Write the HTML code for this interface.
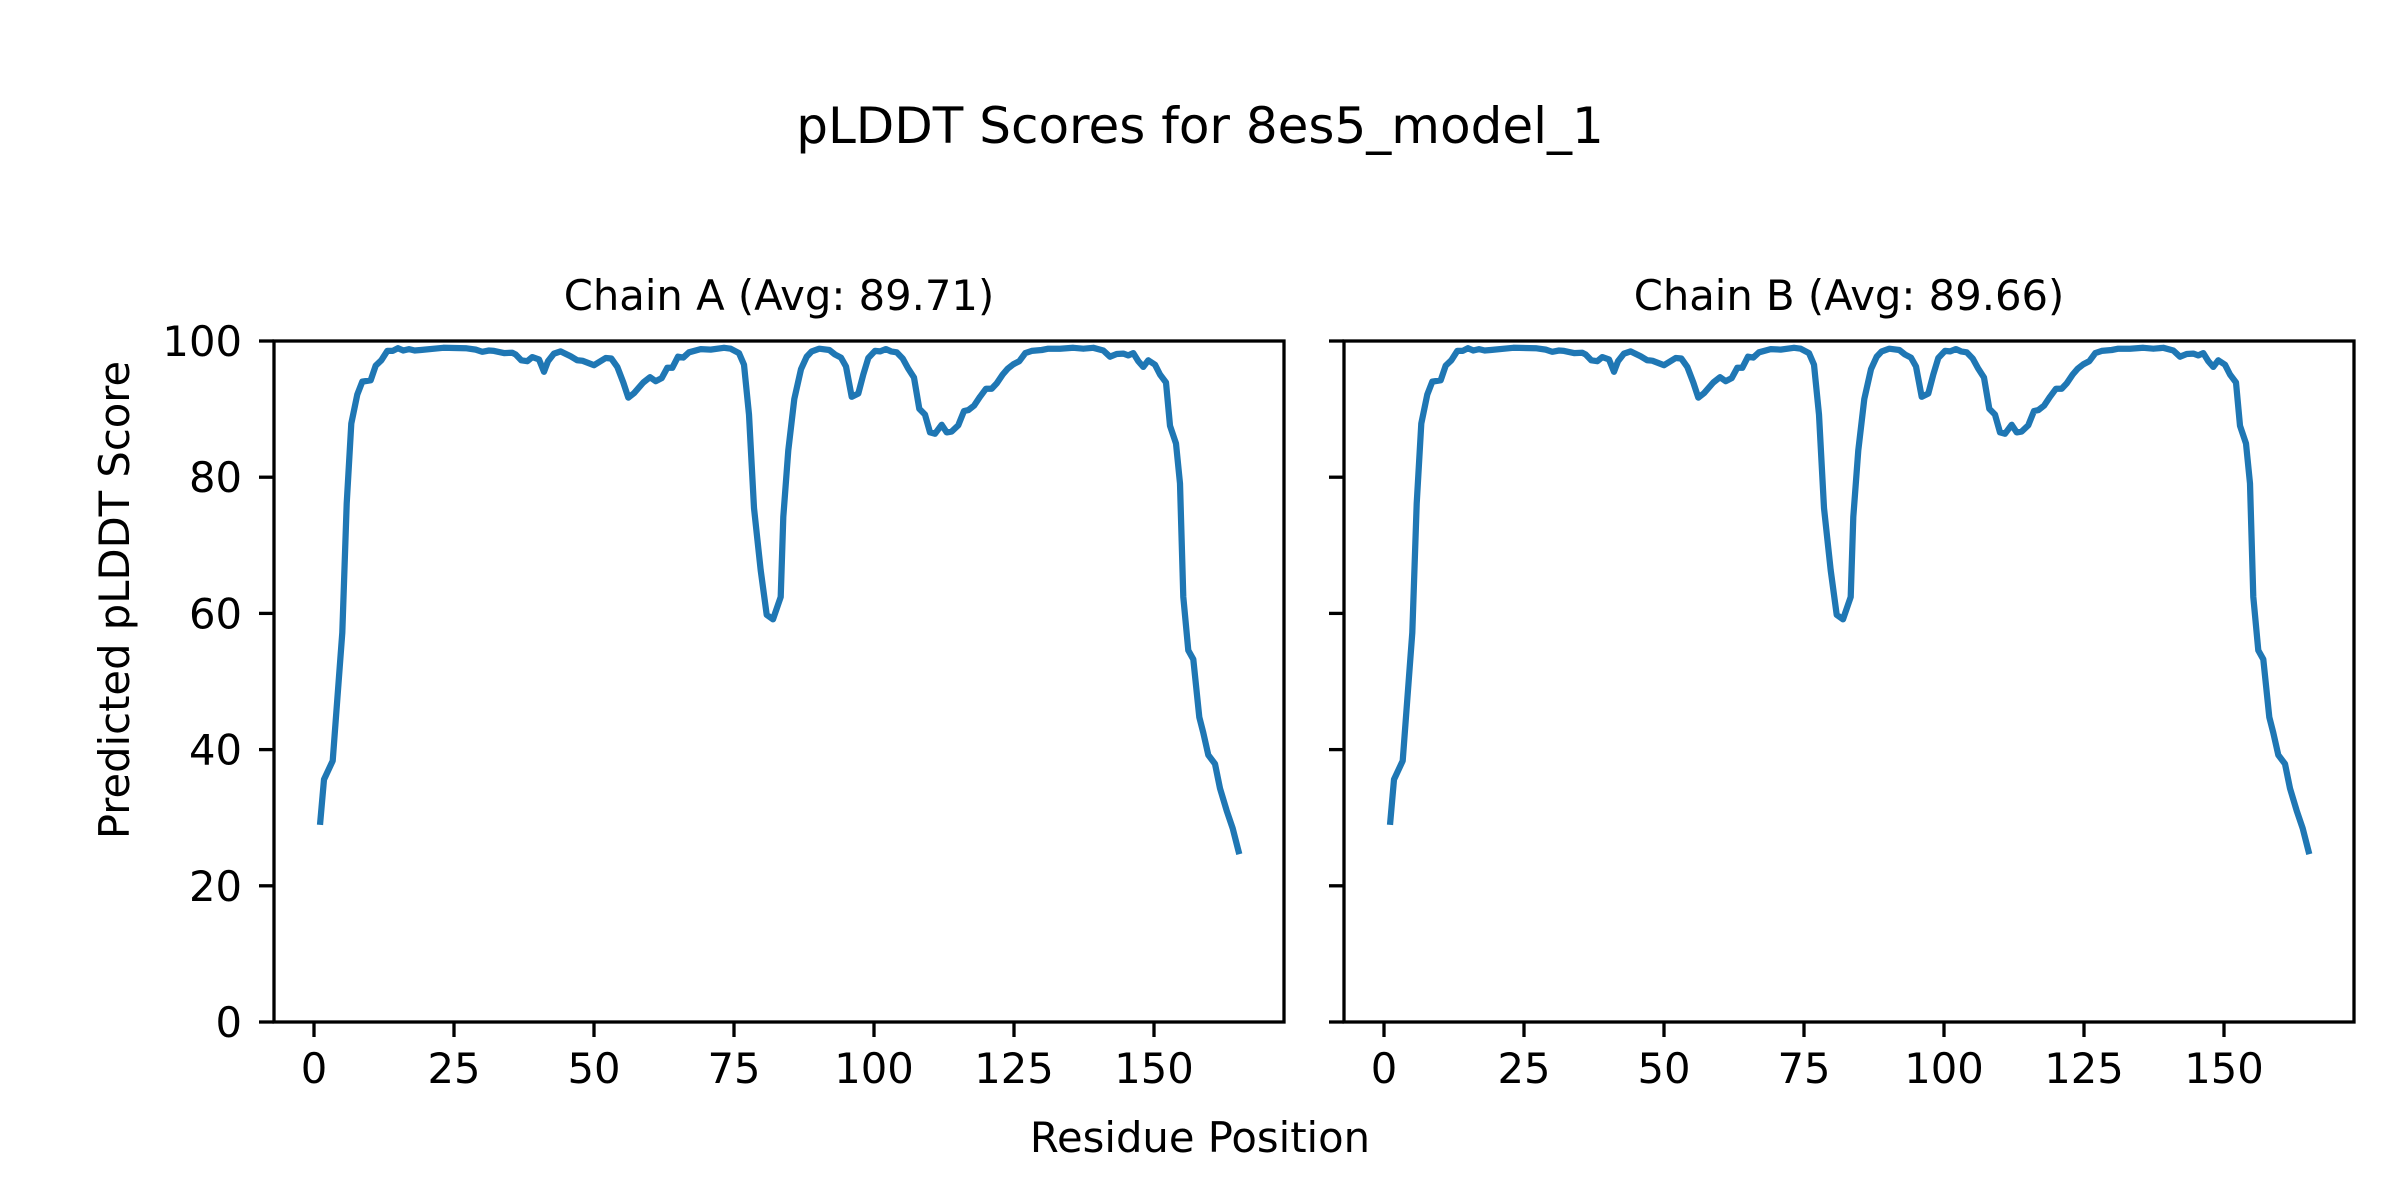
<!DOCTYPE html>
<html><head><meta charset="utf-8"><style>
html,body{margin:0;padding:0;background:#fff;}
svg{display:block;}
text{font-family:"DejaVu Sans","Liberation Sans",sans-serif;fill:#000;}
</style></head><body>
<svg width="2400" height="1200" viewBox="0 0 2400 1200" xmlns="http://www.w3.org/2000/svg">
<rect width="2400" height="1200" fill="#fff"/>
<text x="1200" y="143" font-size="50" text-anchor="middle">pLDDT Scores for 8es5_model_1</text>
<text x="779" y="310" font-size="41.7" text-anchor="middle">Chain A (Avg: 89.71)</text>
<text x="1849" y="310" font-size="41.7" text-anchor="middle">Chain B (Avg: 89.66)</text>
<text x="1200" y="1152" font-size="41.7" text-anchor="middle">Residue Position</text>
<text transform="translate(129,600) rotate(-90)" font-size="41.7" text-anchor="middle">Predicted pLDDT Score</text>

<defs>
<polyline id="curve" fill="none" stroke="#1f77b4" stroke-width="6.25" stroke-linejoin="round" stroke-linecap="butt" points="320.0,824.9 324.0,779.5 332.7,760.8 342.3,632.6 346.7,503.6 351.3,423.5 357.3,394.5 362.3,381.6 370.7,380.3 375.7,365.6 381.3,360.3 387.3,350.9 392.7,350.9 398.0,348.2 403.3,350.5 409.0,349.1 414.7,350.5 420.7,350.0 443.3,347.8 465.7,348.2 475.7,349.6 482.3,351.8 489.0,350.5 494.0,350.9 504.0,353.1 512.3,352.7 515.7,354.5 521.3,360.3 527.3,361.2 532.3,357.1 539.0,359.4 544.0,371.8 548.0,361.2 554.0,353.6 560.7,351.4 570.7,356.3 577.3,360.3 582.3,360.7 594.0,365.2 605.7,358.0 611.3,358.5 617.3,366.9 623.3,382.5 628.3,397.6 634.0,393.2 643.3,382.5 650.0,377.2 655.7,381.2 661.7,378.1 667.3,367.8 672.3,367.8 678.0,356.7 683.3,357.6 689.0,352.3 700.7,349.1 710.7,349.6 724.0,347.8 730.7,348.7 739.0,353.1 744.0,364.7 749.0,414.6 754.0,508.0 760.7,570.3 766.7,614.8 773.0,619.3 780.7,597.0 783.3,516.9 788.3,450.2 794.3,399.0 801.0,369.2 806.7,356.7 811.7,351.4 819.3,348.7 829.3,350.0 835.0,354.5 841.0,357.6 846.0,366.5 851.7,396.8 858.3,393.6 863.3,374.5 868.3,358.0 875.0,350.9 880.0,351.4 886.0,349.1 891.0,351.4 896.7,352.3 902.7,358.5 908.3,368.7 914.0,377.6 919.3,408.8 925.0,414.6 930.0,432.4 935.0,433.7 941.7,424.8 946.7,432.4 951.7,431.5 958.3,425.2 964.0,411.0 968.3,410.1 974.0,405.7 980.0,396.8 986.0,388.7 991.7,388.7 996.7,383.4 1002.7,374.5 1007.7,368.7 1013.3,364.3 1019.3,361.2 1025.3,353.1 1031.7,350.9 1041.7,350.0 1048.3,348.7 1060.0,348.7 1073.3,347.8 1083.3,348.7 1093.3,347.8 1103.3,350.5 1110.0,356.7 1116.7,354.0 1123.3,353.6 1128.3,355.4 1133.3,353.1 1138.3,361.2 1143.3,366.9 1148.3,360.3 1155.0,364.7 1160.0,374.5 1166.0,382.5 1170.0,425.7 1176.0,443.5 1180.0,483.5 1183.3,597.0 1188.3,650.4 1193.3,659.3 1199.3,717.2 1203.3,732.8 1208.3,755.0 1215.0,763.9 1220.0,788.4 1226.7,810.7 1232.7,828.4 1239.3,854.2"/>
<g id="ticks" stroke="#000" stroke-width="3.3">
<line x1="274" y1="1022" x2="259" y2="1022"/>
<line x1="274" y1="885.8" x2="259" y2="885.8"/>
<line x1="274" y1="749.6" x2="259" y2="749.6"/>
<line x1="274" y1="613.4" x2="259" y2="613.4"/>
<line x1="274" y1="477.2" x2="259" y2="477.2"/>
<line x1="274" y1="341" x2="259" y2="341"/>
<line x1="314" y1="1022" x2="314" y2="1037"/>
<line x1="454" y1="1022" x2="454" y2="1037"/>
<line x1="594" y1="1022" x2="594" y2="1037"/>
<line x1="734" y1="1022" x2="734" y2="1037"/>
<line x1="874" y1="1022" x2="874" y2="1037"/>
<line x1="1014" y1="1022" x2="1014" y2="1037"/>
<line x1="1154" y1="1022" x2="1154" y2="1037"/>
</g>
<g id="xlabels" font-size="41.7" text-anchor="middle">
<text x="314" y="1083">0</text>
<text x="454" y="1083">25</text>
<text x="594" y="1083">50</text>
<text x="734" y="1083">75</text>
<text x="874" y="1083">100</text>
<text x="1014" y="1083">125</text>
<text x="1154" y="1083">150</text>
</g>
</defs>

<!-- Axes A -->
<use href="#curve"/>
<use href="#ticks"/>
<use href="#xlabels"/>
<rect x="274" y="341" width="1010" height="681" fill="none" stroke="#000" stroke-width="3.3"/>
<g font-size="41.7" text-anchor="end">
<text x="242" y="1037">0</text>
<text x="242" y="900.8">20</text>
<text x="242" y="764.6">40</text>
<text x="242" y="628.4">60</text>
<text x="242" y="492.2">80</text>
<text x="242" y="356">100</text>
</g>

<!-- Axes B -->
<g transform="translate(1070,0)">
<use href="#curve"/>
<use href="#ticks"/>
<use href="#xlabels"/>
<rect x="274" y="341" width="1010" height="681" fill="none" stroke="#000" stroke-width="3.3"/>
</g>
</svg>
</body></html>
